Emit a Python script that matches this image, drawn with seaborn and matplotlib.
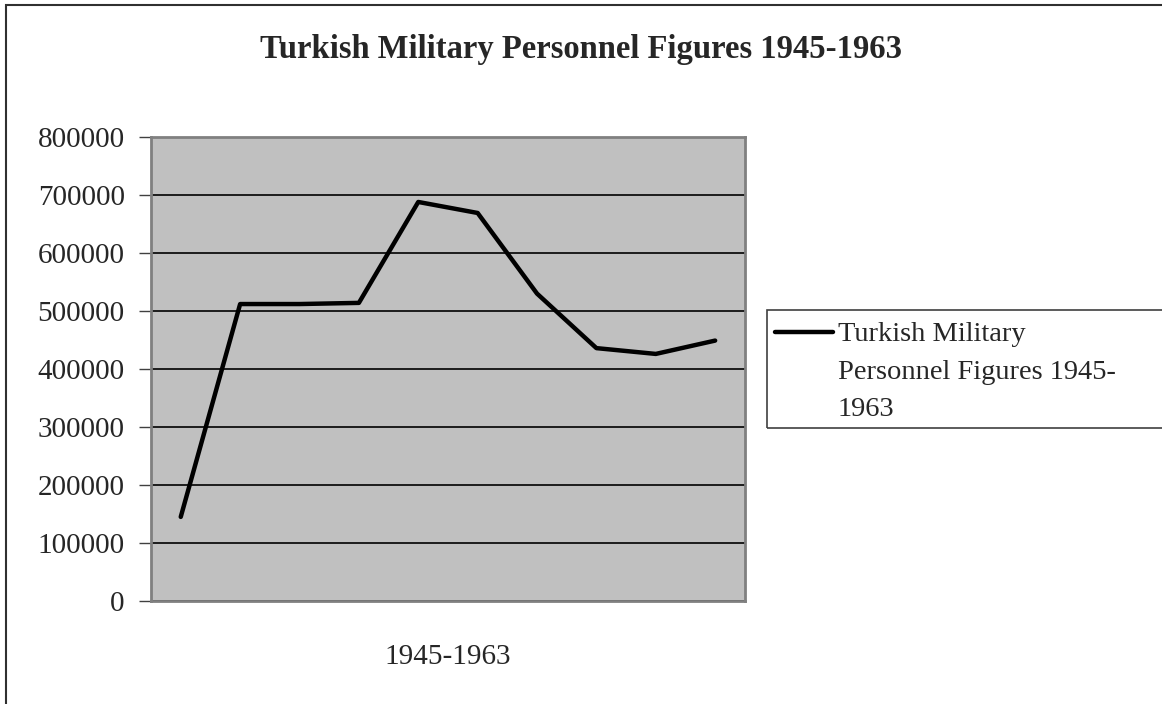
import matplotlib
matplotlib.use('Agg')
import matplotlib.pyplot as plt
from matplotlib.patches import Rectangle
from matplotlib.lines import Line2D
import seaborn as sns
import pandas as pd

# values
years = ['1945', '1947', '1949', '1951', '1953', '1955', '1957', '1959', '1961', '1963']
personnel = [145000, 512000, 512000, 514000, 688000, 669000, 530000, 436000, 426000, 449000]
series_name = 'Turkish Military Personnel Figures 1945-1963'
legend_label = 'Turkish Military\nPersonnel Figures 1945-\n1963'
yticks = [0, 100000, 200000, 300000, 400000, 500000, 600000, 700000, 800000]

df = pd.DataFrame({'year': years, 'personnel': personnel})

sns.set_style('white')
plt.rcParams['font.family'] = ['Liberation Serif', 'DejaVu Serif']

fig = plt.figure(figsize=(11.62, 7.04), dpi=100)
ax = fig.add_axes([0.130, 0.1463, 0.511, 0.6591])
ax.set_facecolor('#c0c0c0')

sns.lineplot(data=df, x='year', y='personnel', ax=ax, color='black', lw=3.2, legend=False)

ax.set_xlim(-0.5, len(years) - 0.5)
ax.set_ylim(0, 800000)
ax.set_yticks(yticks)
ax.set_yticklabels([str(v) for v in yticks], fontsize=21)
ax.set_xticks([])
ax.grid(axis='y', color='black', lw=1.2)
ax.set_axisbelow(True)
ax.tick_params(axis='y', left=True, length=9, width=1, color='#404040', pad=10)
for s in ax.spines.values():
    s.set_color('#808080')
    s.set_linewidth(2)
ax.set_xlabel('1945-1963', fontsize=21, labelpad=31)
ax.set_ylabel('')

fig.text(0.5, 0.929, series_name, ha='center', va='center', fontsize=23.5, fontweight='bold')

# legend box at the right
fig.patches.append(Rectangle((767 / 1162, 1 - 428 / 704), 0.5, 118 / 704,
                             transform=fig.transFigure, fill=False, ec='#404040', lw=1.2))
fig.lines.append(Line2D([775 / 1162, 833 / 1162], [1 - 332 / 704, 1 - 332 / 704],
                        transform=fig.transFigure, color='black', lw=3.2))
fig.text(838 / 1162, 1 - 322 / 704, legend_label, ha='left', va='top', fontsize=20.5,
         linespacing=1.66)

# outer chart border
fig.patches.append(Rectangle((6 / 1162, -0.1), 1.2, 1 - 5 / 704 + 0.1,
                             transform=fig.transFigure, fill=False, ec='#303030', lw=1.5))

fig.savefig('out.png', dpi=100)
